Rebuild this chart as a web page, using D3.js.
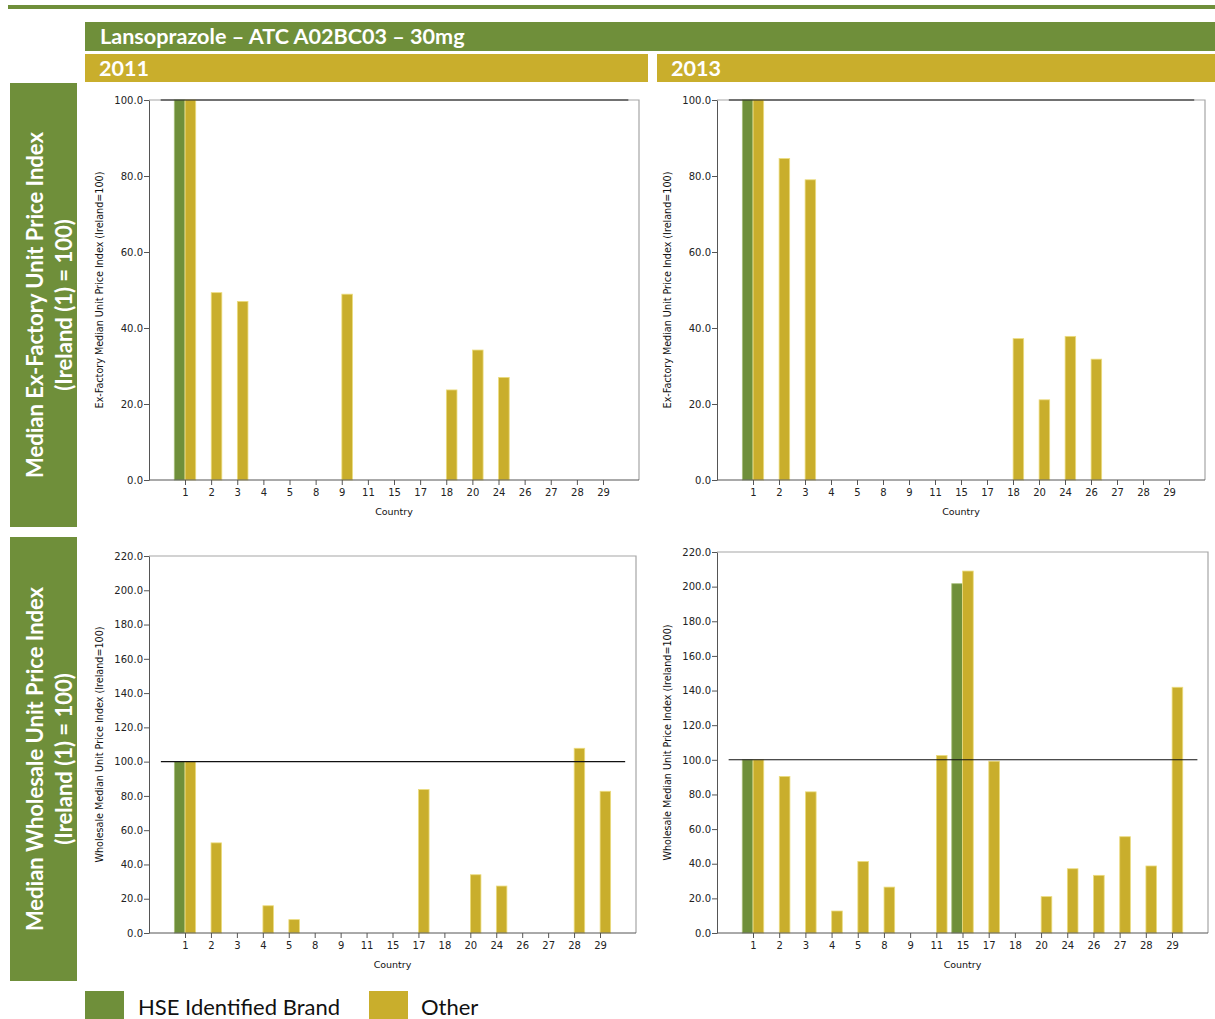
<!DOCTYPE html>
<html>
<head>
<meta charset="utf-8">
<script src="https://cdn.jsdelivr.net/npm/d3@7"></script>
<style>
  html, body { margin: 0; padding: 0; background: #fff; }
  svg { display: block; }
</style>
</head>
<body>
<svg id="chart" width="1215" height="1019"></svg>
<script>
// ---------------- DATA ----------------
const countries = ["1","2","3","4","5","8","9","11","15","17","18","20","24","26","27","28","29"];

// 2011 Ex-Factory
const exFactory2011Brand = [100, null, null, null, null, null, null, null, null, null, null, null, null, null, null, null, null];
const exFactory2011Other = [100, 49.3, 47.0, null, null, null, 48.9, null, null, null, 23.7, 34.2, 27.0, null, null, null, null];

// 2013 Ex-Factory
const exFactory2013Brand = [100, null, null, null, null, null, null, null, null, null, null, null, null, null, null, null, null];
const exFactory2013Other = [100, 84.6, 79.0, null, null, null, null, null, null, null, 37.2, 21.1, 37.8, 31.8, null, null, null];

// 2011 Wholesale
const wholesale2011Brand = [100, null, null, null, null, null, null, null, null, null, null, null, null, null, null, null, null];
const wholesale2011Other = [100, 52.6, null, 15.9, 7.8, null, null, null, null, 83.7, null, 34.0, 27.4, null, null, 107.8, 82.7];

// 2013 Wholesale
const wholesale2013Brand = [100, null, null, null, null, null, null, null, 201.7, null, null, null, null, null, null, null, null];
const wholesale2013Other = [100, 90.4, 81.5, 12.7, 41.3, 26.5, null, 102.5, 209.0, 99.2, null, 21.0, 37.1, 33.3, 55.6, 38.7, 141.9];

const exFactoryTicks = [0, 20, 40, 60, 80, 100];
const wholesaleTicks = [0, 20, 40, 60, 80, 100, 120, 140, 160, 180, 200, 220];

const titleText = "Lansoprazole – ATC A02BC03 – 30mg";
const yearLabels = ["2011", "2013"];
const rowLabels = [
  ["Median Ex-Factory Unit Price Index", "(Ireland (1) = 100)"],
  ["Median Wholesale Unit Price Index", "(Ireland (1) = 100)"]
];
const yTitles = ["Ex-Factory Median Unit Price Index (Ireland=100)", "Wholesale Median Unit Price Index (Ireland=100)"];
const xTitle = "Country";
const seriesNames = ["HSE Identified Brand", "Other"];
const referenceValue = 100;

// ---------------- STYLE ----------------
const GREEN = "#6f8f3a";
const GOLD = "#c9ae2c";
const GREEN_EDGE = "#a9bf7c";
const GOLD_EDGE = "#ecdc7e";
const headFont = "Lato, 'Open Sans', sans-serif";
const axisFont = "'DejaVu Sans', Verdana, sans-serif";

const svg = d3.select("#chart");

// top rule
svg.append("rect").attr("x", 8).attr("y", 5).attr("width", 1207).attr("height", 4).attr("fill", GREEN);

// title bar
svg.append("rect").attr("x", 85).attr("y", 22).attr("width", 1130).attr("height", 29).attr("fill", GREEN);
svg.append("text").attr("x", 100).attr("y", 44).attr("fill", "#fff")
  .attr("font-family", headFont).attr("font-weight", 700).attr("font-size", 21.6)
  .text(titleText);

// year bars
const yearBars = [{x: 85, w: 563}, {x: 657, w: 558}];
yearBars.forEach((b, i) => {
  svg.append("rect").attr("x", b.x).attr("y", 54).attr("width", b.w).attr("height", 28).attr("fill", GOLD);
  svg.append("text").attr("x", b.x + 14).attr("y", 76).attr("fill", "#fff")
    .attr("font-family", headFont).attr("font-weight", 700).attr("font-size", 21.6)
    .text(yearLabels[i]);
});

// row label boxes
const rowBoxes = [{y: 83, h: 444}, {y: 537, h: 444}];
rowBoxes.forEach((b, i) => {
  svg.append("rect").attr("x", 10).attr("y", b.y).attr("width", 67).attr("height", b.h).attr("fill", GREEN);
  const cy = b.y + b.h / 2;
  rowLabels[i].forEach((line, j) => {
    svg.append("text")
      .attr("transform", `translate(${34 + j * 29},${cy}) rotate(-90)`)
      .attr("text-anchor", "middle").attr("dominant-baseline", "central")
      .attr("fill", "#fff").attr("font-family", headFont).attr("font-weight", 700).attr("font-size", 22)
      .text(line);
  });
});

// ---------------- PANELS ----------------
const panels = [
  {left: 149, right: 639, top: 100, bottom: 480, max: 100, ticks: exFactoryTicks, brand: exFactory2011Brand, other: exFactory2011Other, yTitle: yTitles[0]},
  {left: 717, right: 1205, top: 100, bottom: 480, max: 100, ticks: exFactoryTicks, brand: exFactory2013Brand, other: exFactory2013Other, yTitle: yTitles[0]},
  {left: 149, right: 636, top: 556, bottom: 933, max: 220, ticks: wholesaleTicks, brand: wholesale2011Brand, other: wholesale2011Other, yTitle: yTitles[1]},
  {left: 717, right: 1208, top: 552, bottom: 933, max: 220, ticks: wholesaleTicks, brand: wholesale2013Brand, other: wholesale2013Other, yTitle: yTitles[1]}
];

panels.forEach(p => {
  const g = svg.append("g");
  const x = d3.scalePoint().domain(countries).range([p.left + 36, p.right - 36]);
  const step = x.step();
  const y = d3.scaleLinear().domain([0, p.max]).range([p.bottom, p.top]);
  const sub = d3.scaleBand().domain(["brand", "other"]).range([-step * 0.41, step * 0.41]).paddingInner(0.02);

  // frame (top & right, light grey)
  g.append("path")
    .attr("d", `M${p.left},${p.top}H${p.right}V${p.bottom}`)
    .attr("fill", "none").attr("stroke", "#a6a6a6").attr("stroke-width", 1.2);

  // bars
  const rows = countries.map((c, i) => ({c, brand: p.brand[i], other: p.other[i]}));
  const series = [
    {key: "brand", fill: GREEN, edge: GREEN_EDGE},
    {key: "other", fill: GOLD, edge: GOLD_EDGE}
  ];
  series.forEach(s => {
    g.selectAll(null)
      .data(rows.filter(r => r[s.key] != null && r[s.key] > 0))
      .join("rect")
      .attr("x", r => x(r.c) + sub(s.key))
      .attr("y", r => y(r[s.key]))
      .attr("width", sub.bandwidth())
      .attr("height", r => y(0) - y(r[s.key]))
      .attr("fill", s.fill)
      .attr("stroke", s.edge).attr("stroke-width", 0.8);
  });

  // reference line
  g.append("line")
    .attr("x1", x(countries[0]) - step * 0.93)
    .attr("x2", x(countries[countries.length - 1]) + step * 0.97)
    .attr("y1", y(referenceValue)).attr("y2", y(referenceValue))
    .attr("stroke", "#111").attr("stroke-width", 1.1);

  // y axis
  const ya = g.append("g").attr("transform", `translate(${p.left},0)`)
    .call(d3.axisLeft(y).tickValues(p.ticks).tickFormat(d3.format(".1f")).tickSize(5).tickSizeOuter(0));
  ya.select(".domain").attr("stroke", "#555");
  ya.selectAll(".tick line").attr("stroke", "#555");
  ya.selectAll("text").attr("font-family", axisFont).attr("font-size", 10).attr("fill", "#222").attr("x", -6);

  // x axis
  const xa = g.append("g").attr("transform", `translate(0,${p.bottom})`)
    .call(d3.axisBottom(x).tickSize(5).tickSizeOuter(0));
  xa.select(".domain").attr("d", `M${p.left},0H${p.right}`).attr("stroke", "#555");
  xa.selectAll(".tick line").attr("stroke", "#555");
  xa.selectAll("text").attr("font-family", axisFont).attr("font-size", 10).attr("fill", "#222").attr("y", 9);

  // titles
  g.append("text")
    .attr("transform", `translate(${p.left - 46},${(p.top + p.bottom) / 2}) rotate(-90)`)
    .attr("text-anchor", "middle")
    .attr("font-family", axisFont).attr("font-size", 9.6).attr("fill", "#111")
    .text(p.yTitle);
  g.append("text")
    .attr("x", (p.left + p.right) / 2).attr("y", p.bottom + 35)
    .attr("text-anchor", "middle")
    .attr("font-family", axisFont).attr("font-size", 9.5).attr("fill", "#111")
    .text(xTitle);
});

// ---------------- LEGEND ----------------
const legendItems = [
  {name: seriesNames[0], fill: GREEN, x: 85, tx: 138},
  {name: seriesNames[1], fill: GOLD, x: 369, tx: 421}
];
legendItems.forEach(l => {
  svg.append("rect").attr("x", l.x).attr("y", 991).attr("width", 39).attr("height", 28).attr("fill", l.fill);
  svg.append("text").attr("x", l.tx).attr("y", 1006).attr("dominant-baseline", "central")
    .attr("font-family", headFont).attr("font-size", 22).attr("fill", "#111")
    .text(l.name);
});
</script>
</body>
</html>
